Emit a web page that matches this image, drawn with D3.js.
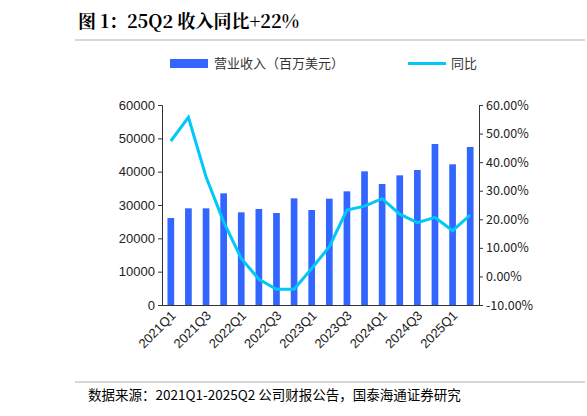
<!DOCTYPE html>
<html><head><meta charset="utf-8">
<script src="https://cdn.jsdelivr.net/npm/d3@7"></script>
<style>body{margin:0;background:#fff}</style></head>
<body><svg id="c" width="587" height="416"></svg>
<script>
const quarters=["2021Q1","2021Q2","2021Q3","2021Q4","2022Q1","2022Q2","2022Q3","2022Q4","2023Q1","2023Q2","2023Q3","2023Q4","2024Q1","2024Q2","2024Q3","2024Q4","2025Q1","2025Q2"];
const revenue=[26100,29000,29000,33500,27800,28800,27600,32000,28500,31900,34100,40100,36300,38900,40500,48300,42200,47400];
const yoy=[47.4,55.7,34.9,19.1,6.3,-1.0,-4.5,-4.5,2.8,10.4,23.2,24.6,27.2,21.8,18.8,20.7,16.0,21.5];
const leftTicks=[0,10000,20000,30000,40000,50000,60000];
const rightTicks=[-10,0,10,20,30,40,50,60];
const svg=d3.select("#c");
const L=162,R=479,T=105,B=305;
const x=d3.scaleBand().domain(quarters).range([L,R]).paddingInner(0.62).paddingOuter(0.31);
const y=d3.scaleLinear().domain([0,60000]).range([B,T]);
const y2=d3.scaleLinear().domain([-10,60]).range([B,T]);
const font="'Noto Sans CJK SC','Noto Sans',sans-serif";
svg.append("text").attr("x",78).attr("y",28).attr("font-family","'Noto Serif CJK SC','Noto Sans CJK SC',serif").attr("font-weight","bold").attr("font-size",18).text("图 1：25Q2 收入同比+22%");
svg.append("line").attr("x1",75).attr("x2",585).attr("y1",40).attr("y2",40).attr("stroke","#999").attr("stroke-width",0.8);
svg.append("line").attr("x1",75).attr("x2",585).attr("y1",382).attr("y2",382).attr("stroke","#999").attr("stroke-width",0.8);
svg.append("text").attr("x",88).attr("y",400).attr("font-family",font).attr("font-size",13.5).text("数据来源：2021Q1-2025Q2 公司财报公告，国泰海通证券研究");
// legend
svg.append("rect").attr("x",170).attr("y",59).attr("width",38).attr("height",9).attr("fill","#3366ff");
svg.append("text").attr("x",214).attr("y",68).attr("font-family",font).attr("font-size",13).attr("fill","#333").text("营业收入（百万美元）");
svg.append("line").attr("x1",408).attr("x2",446).attr("y1",63.5).attr("y2",63.5).attr("stroke","#00c8f8").attr("stroke-width",3);
svg.append("text").attr("x",451).attr("y",68).attr("font-family",font).attr("font-size",13).attr("fill","#333").text("同比");
// bars
svg.selectAll(".b").data(revenue).join("rect").attr("x",(d,i)=>x(quarters[i])).attr("width",x.bandwidth()).attr("y",d=>y(d)).attr("height",d=>B-y(d)).attr("fill","#3366ff");
// axes
const ax=svg.append("g").attr("transform",`translate(${L},0)`).call(d3.axisLeft(y).tickValues(leftTicks).tickSize(4).tickFormat(d3.format("d")));
const ax2=svg.append("g").attr("transform",`translate(${R},0)`).call(d3.axisRight(y2).tickValues(rightTicks).tickSize(4).tickFormat(d=>d.toFixed(2)+"%"));
const axb=svg.append("g").attr("transform",`translate(0,${B})`).call(d3.axisBottom(x).tickValues(quarters.filter((d,i)=>i%2===0)).tickSize(0).tickSizeOuter(0));
[ax,ax2,axb].forEach(g=>{g.selectAll("text").attr("font-family","'Liberation Sans',Arial,sans-serif").attr("font-size",13).attr("fill","#222");g.selectAll("path,line").attr("stroke","#333");});
ax2.selectAll("text").attr("font-family",font).attr("font-size",12.5);
axb.selectAll("text").attr("transform","rotate(-45)").attr("text-anchor","end").attr("dx","-0.3em").attr("dy","0.7em");
// line
const line=d3.line().x((d,i)=>x(quarters[i])+x.bandwidth()/2).y(d=>y2(d));
svg.append("path").datum(yoy).attr("d",line).attr("fill","none").attr("stroke","#00c8f8").attr("stroke-width",3);
</script></body></html>
